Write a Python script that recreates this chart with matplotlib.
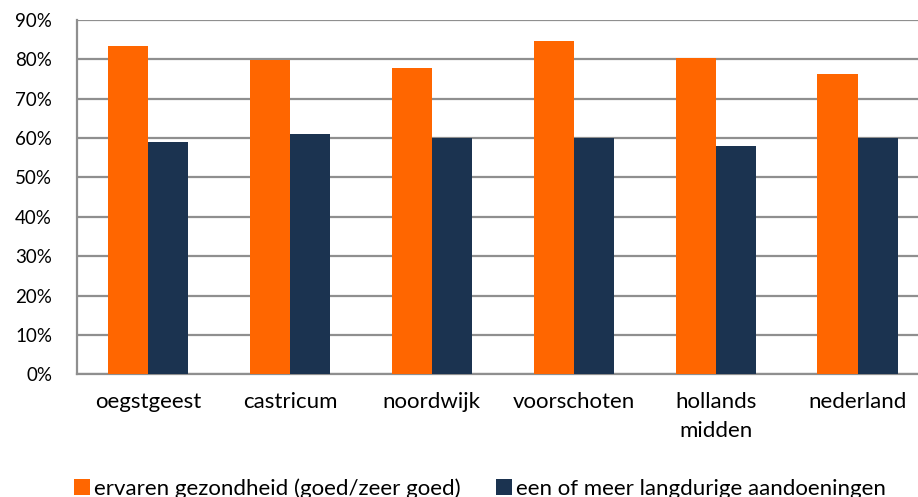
import numpy as np
import matplotlib
matplotlib.use('Agg')
import matplotlib.pyplot as plt

regions = ['oegstgeest', 'castricum', 'noordwijk', 'voorschoten', 'hollands\nmidden', 'nederland']
gezondheid = [83.4, 79.8, 77.8, 84.6, 80.4, 76.3]
aandoeningen = [59.0, 61.1, 60.0, 60.0, 58.0, 60.1]
series_names = ['ervaren gezondheid (goed/zeer goed)', 'een of meer langdurige aandoeningen']

plt.rcParams['font.family'] = ['Lato', 'DejaVu Sans']

fig = plt.figure(figsize=(9.18, 4.97), dpi=100)
ax = fig.add_axes([0.0839, 0.2469, 0.9275, 0.7129])

x = np.arange(len(regions))
w = 0.282
ax.bar(x - w / 2, gezondheid, w, color='#FF6600', label=series_names[0], zorder=3)
ax.bar(x + w / 2, aandoeningen, w, color='#1B3350', label=series_names[1], zorder=3)

ax.set_xlim(-0.5, len(regions) - 0.5)
ax.set_ylim(0, 90)
ax.set_yticks(range(0, 91, 10))
ax.set_yticklabels([f'{v}%' for v in range(0, 91, 10)], fontsize=13.5)
ax.set_xticks(x)
ax.set_xticklabels(regions, fontsize=16, linespacing=1.55)
ax.tick_params(axis='both', length=0)
ax.tick_params(axis='y', pad=18)
ax.tick_params(axis='x', pad=13)

ax.grid(axis='y', color='#8f8f8f', linewidth=1.6, zorder=0)
for s in ['top', 'right']:
    ax.spines[s].set_visible(False)
ax.spines['left'].set_color('#8f8f8f')
ax.spines['bottom'].set_color('#8f8f8f')
ax.spines['left'].set_linewidth(1.6)
ax.spines['bottom'].set_linewidth(1.6)

fig.legend(loc='center', bbox_to_anchor=(0.523, 0.017), ncol=2, frameon=False,
           fontsize=16, handlelength=0.7, handleheight=0.7, handletextpad=0.2,
           columnspacing=1.6)

fig.savefig('out.png', dpi=100)
